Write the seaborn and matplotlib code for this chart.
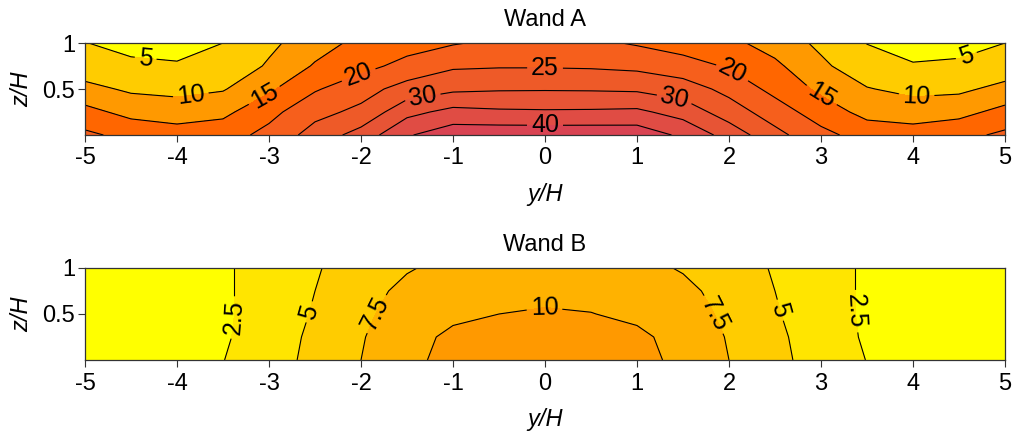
import matplotlib
matplotlib.use('Agg')
import matplotlib.pyplot as plt
import numpy as np
import seaborn as sns

# grid positions (y/H across, z/H up)
y_pos = [-5, -4.5, -4, -3.5, -3, -2.5, -2, -1.5, -1, -0.5, 0,
         0.5, 1, 1.5, 2, 2.5, 3, 3.5, 4, 4.5, 5]
z_pos = [0, 0.25, 0.5, 0.75, 1]

# Wand A, one row per z/H level
wand_a_z000 = [21.0, 18.5, 17.0, 17.8, 21.5, 27.0, 32.0, 39.5, 43.0, 43.2, 43.2,
               43.2, 43.0, 39.0, 33.0, 26.5, 21.5, 17.8, 17.0, 18.5, 21.0]
wand_a_z025 = [16.5, 13.5, 12.8, 13.8, 18.5, 23.5, 26.2, 33.5, 36.5, 35.8, 35.6,
               35.7, 36.0, 33.0, 27.5, 22.5, 17.5, 13.5, 12.8, 13.5, 16.5]
wand_a_z050 = [11.5, 9.2, 8.5, 9.6, 14.2, 19.5, 23.0, 27.0, 29.0, 29.5, 29.6,
               29.5, 29.2, 27.5, 23.5, 18.5, 14.0, 10.3, 8.6, 9.0, 11.5]
wand_a_z075 = [7.0, 5.8, 5.4, 6.5, 10.6, 15.5, 18.5, 21.5, 24.3, 24.6, 24.6,
               24.4, 23.8, 22.0, 19.5, 16.0, 11.0, 6.8, 5.3, 5.6, 7.0]
wand_a_z100 = [5.1, 3.8, 3.5, 5.0, 8.9, 12.8, 16.4, 18.0, 19.6, 21.0, 21.8,
               21.0, 19.5, 17.8, 16.2, 13.0, 8.9, 4.9, 3.5, 3.8, 5.0]

# Wand B
wand_b_z000 = [0.5, 0.8, 1.3, 2.45, 3.9, 5.7, 7.5, 9.6, 10.5, 10.8, 11.0,
               10.8, 10.5, 9.6, 7.5, 5.7, 3.9, 2.45, 1.3, 0.8, 0.5]
wand_b_z025 = [0.4, 0.7, 1.1, 2.2, 3.8, 5.5, 7.3, 9.3, 10.4, 10.7, 10.8,
               10.7, 10.4, 9.3, 7.3, 5.5, 3.8, 2.2, 1.1, 0.7, 0.4]
wand_b_z050 = [0.4, 0.6, 1.0, 2.1, 3.7, 5.2, 7.0, 8.6, 9.6, 10.0, 10.2,
               10.05, 9.6, 8.6, 7.0, 5.2, 3.7, 2.1, 1.0, 0.6, 0.4]
wand_b_z075 = [0.3, 0.6, 1.0, 2.1, 3.7, 5.0, 6.6, 8.1, 9.0, 9.4, 9.5,
               9.4, 9.0, 8.1, 6.6, 5.0, 3.7, 2.1, 1.0, 0.6, 0.3]
wand_b_z100 = [0.3, 0.6, 1.0, 2.1, 3.7, 4.8, 6.1, 7.3, 8.2, 8.8, 9.0,
               8.8, 8.2, 7.3, 6.1, 4.8, 3.7, 2.1, 1.0, 0.6, 0.3]

a_fill_levels = [0, 5, 10, 15, 20, 25, 30, 35, 40, 50]
a_fill_colors = ['#FFFF00', '#FFCC00', '#FF9900', '#FF6600', '#F65F1C',
                 '#EE5A28', '#E75435', '#E04C44', '#D94352']
a_label_levels = [5, 10, 15, 20, 25, 30, 40]
a_plain_levels = [35]
a_label_pos = [(-4.34, 0.84), (-3.84, 0.36), (-3.04, 0.41), (-2.04, 0.69),
               (0.0, 0.71), (-1.33, 0.42), (0.0, 0.09), (1.41, 0.41),
               (2.04, 0.69), (3.01, 0.44), (4.04, 0.38), (4.57, 0.89)]

b_fill_levels = [0, 2.5, 5, 7.5, 10, 12.5]
b_fill_colors = ['#FFFF00', '#FFE500', '#FFCC00', '#FFB200', '#FF9900']
b_label_levels = [2.5, 5, 7.5, 10]
b_plain_levels = []
b_label_pos = [(-3.37, 0.46), (-2.59, 0.53), (-1.85, 0.51), (0.0, 0.53),
               (1.87, 0.51), (2.59, 0.55), (3.37, 0.53)]

sns.set_theme(style='ticks')
plt.rcParams['font.family'] = ['Liberation Sans', 'DejaVu Sans']
plt.rcParams['axes.unicode_minus'] = False
plt.rcParams['text.color'] = 'black'
plt.rcParams['axes.labelcolor'] = 'black'

FS = 17


def draw_panel(ax, grid, fill_levels, fill_colors, label_levels,
               plain_levels, label_pos, title):
    ax.contourf(y_pos, z_pos, grid, levels=fill_levels, colors=fill_colors)
    if plain_levels:
        ax.contour(y_pos, z_pos, grid, levels=plain_levels,
                   colors='black', linewidths=0.8)
    cs = ax.contour(y_pos, z_pos, grid, levels=label_levels,
                    colors='black', linewidths=0.8)
    ax.clabel(cs, manual=label_pos, fmt='%g', colors='black',
              fontsize=18, inline=True, inline_spacing=4)
    ax.set_xlim(-5, 5)
    ax.set_ylim(0, 1)
    ax.set_xticks(range(-5, 6))
    ax.set_yticks([0.5, 1])
    ax.set_yticklabels(['0.5', '1'])
    ax.set_title(title, fontsize=FS, pad=12, color='black')
    ax.set_xlabel('y/H', fontstyle='italic', fontsize=FS, labelpad=10)
    ax.set_ylabel('z/H', fontstyle='italic', fontsize=FS, labelpad=7)
    ax.tick_params(direction='out', length=5, width=0.8, labelsize=FS,
                   color='#333333', labelcolor='black', pad=4)
    ax.tick_params(axis='y', pad=2)
    for s in ax.spines.values():
        s.set_linewidth(0.9)
        s.set_color('#333333')


fig = plt.figure(figsize=(10.14, 4.32), dpi=100)
ax_a = fig.add_axes([85 / 1014, 1 - 135 / 432, 920 / 1014, 92 / 432])
ax_b = fig.add_axes([85 / 1014, 1 - 360 / 432, 920 / 1014, 92 / 432])

grid_a = np.array([wand_a_z000, wand_a_z025, wand_a_z050, wand_a_z075, wand_a_z100])
grid_b = np.array([wand_b_z000, wand_b_z025, wand_b_z050, wand_b_z075, wand_b_z100])

draw_panel(ax_a, grid_a, a_fill_levels, a_fill_colors, a_label_levels,
           a_plain_levels, a_label_pos, 'Wand A')
draw_panel(ax_b, grid_b, b_fill_levels, b_fill_colors, b_label_levels,
           b_plain_levels, b_label_pos, 'Wand B')

fig.savefig('out.png', dpi=100)
plt.close(fig)
